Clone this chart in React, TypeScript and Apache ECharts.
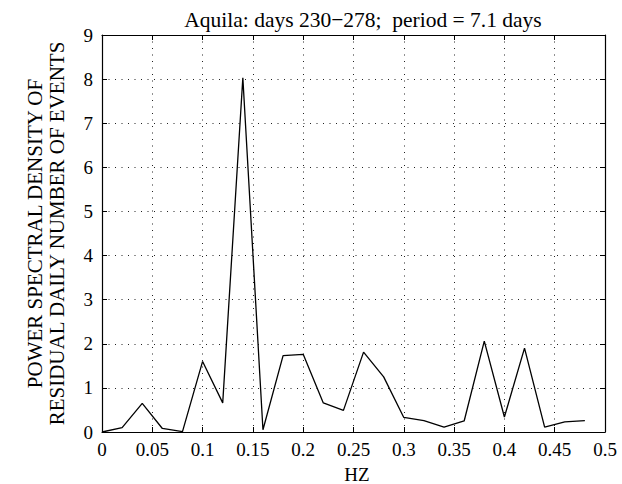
import React, { useEffect, useRef } from "react";
import * as echarts from "echarts";

const freqs = [0, 0.02, 0.04, 0.06, 0.08, 0.1, 0.12, 0.14, 0.16, 0.18, 0.2, 0.22, 0.24, 0.26, 0.28, 0.3, 0.32, 0.34, 0.36, 0.38, 0.4, 0.42, 0.44, 0.46, 0.48];
const psd = [0, 0.1, 0.65, 0.08, 0.01, 1.6, 0.66, 8.03, 0.05, 1.73, 1.76, 0.66, 0.49, 1.81, 1.25, 0.33, 0.26, 0.11, 0.25, 2.06, 0.34, 1.9, 0.11, 0.23, 0.26];

const titleText = "Aquila: days 230\u2212278;  period = 7.1 days";
const xName = "HZ";
const yName1 = "POWER SPECTRAL DENSITY OF";
const yName2 = "RESIDUAL DAILY NUMBER OF EVENTS";

const FONT = "Liberation Serif";

export default function App() {
  const ref = useRef<HTMLDivElement>(null);
  useEffect(() => {
    document.body.style.margin = "0";
    if (!ref.current) return;
    const chart = echarts.init(ref.current, null, { renderer: "svg" });
    const gridL = 102, gridT = 35, gridW = 503, gridH = 397;
    const splitStyle = { show: true, lineStyle: { color: "#222", width: 1, type: [1, 5.5] as any } };
    const fmt = (v: number) => String(Math.round(v * 100) / 100);
    chart.setOption({
      animation: false,
      backgroundColor: "#fff",
      grid: { left: gridL, top: gridT, width: gridW, height: gridH, show: false },
      xAxis: [
        {
          type: "value", min: 0, max: 0.5, interval: 0.05,
          axisLine: { show: true, onZero: false, lineStyle: { color: "#000", width: 1.2 } },
          axisTick: { show: true, inside: true, length: 5, lineStyle: { color: "#000" } },
          axisLabel: { show: true, color: "#000", fontSize: 19, fontFamily: FONT, margin: 8, formatter: fmt },
          splitLine: splitStyle,
        },
        {
          type: "value", position: "top", min: 0, max: 0.5, interval: 0.05,
          axisLine: { show: true, onZero: false, lineStyle: { color: "#000", width: 1.2 } },
          axisTick: { show: true, inside: true, length: 5, lineStyle: { color: "#000" } },
          axisLabel: { show: false },
          splitLine: { show: false },
        },
      ],
      yAxis: [
        {
          type: "value", min: 0, max: 9, interval: 1,
          axisLine: { show: true, onZero: false, lineStyle: { color: "#000", width: 1.2 } },
          axisTick: { show: true, inside: true, length: 5, lineStyle: { color: "#000" } },
          axisLabel: { show: true, color: "#000", fontSize: 19, fontFamily: FONT, margin: 9 },
          splitLine: splitStyle,
        },
        {
          type: "value", position: "right", min: 0, max: 9, interval: 1,
          axisLine: { show: true, onZero: false, lineStyle: { color: "#000", width: 1.2 } },
          axisTick: { show: true, inside: true, length: 5, lineStyle: { color: "#000" } },
          axisLabel: { show: false },
          splitLine: { show: false },
        },
      ],
      series: [
        {
          type: "line",
          data: freqs.map((f, i) => [f, psd[i]]),
          showSymbol: false,
          symbol: "none",
          lineStyle: { color: "#000", width: 1.3 },
          clip: false,
        },
      ],
      graphic: [
        {
          type: "text", x: 363, y: 20,
          style: { text: titleText, fill: "#000", fontSize: 21.5, fontFamily: FONT, align: "center", verticalAlign: "middle" },
        },
        {
          type: "text", x: 357, y: 474,
          style: { text: xName, fill: "#000", fontSize: 19, fontFamily: FONT, align: "center", verticalAlign: "middle" },
        },
        {
          type: "text", x: 35, y: gridT + gridH / 2, rotation: Math.PI / 2,
          style: { text: yName1, fill: "#000", fontSize: 21, fontFamily: FONT, align: "center", verticalAlign: "middle" },
        },
        {
          type: "text", x: 57, y: gridT + gridH / 2, rotation: Math.PI / 2,
          style: { text: yName2, fill: "#000", fontSize: 21, fontFamily: FONT, align: "center", verticalAlign: "middle" },
        },
      ],
    });
    return () => chart.dispose();
  }, []);
  return <div ref={ref} style={{ width: 622, height: 484 }} />;
}
